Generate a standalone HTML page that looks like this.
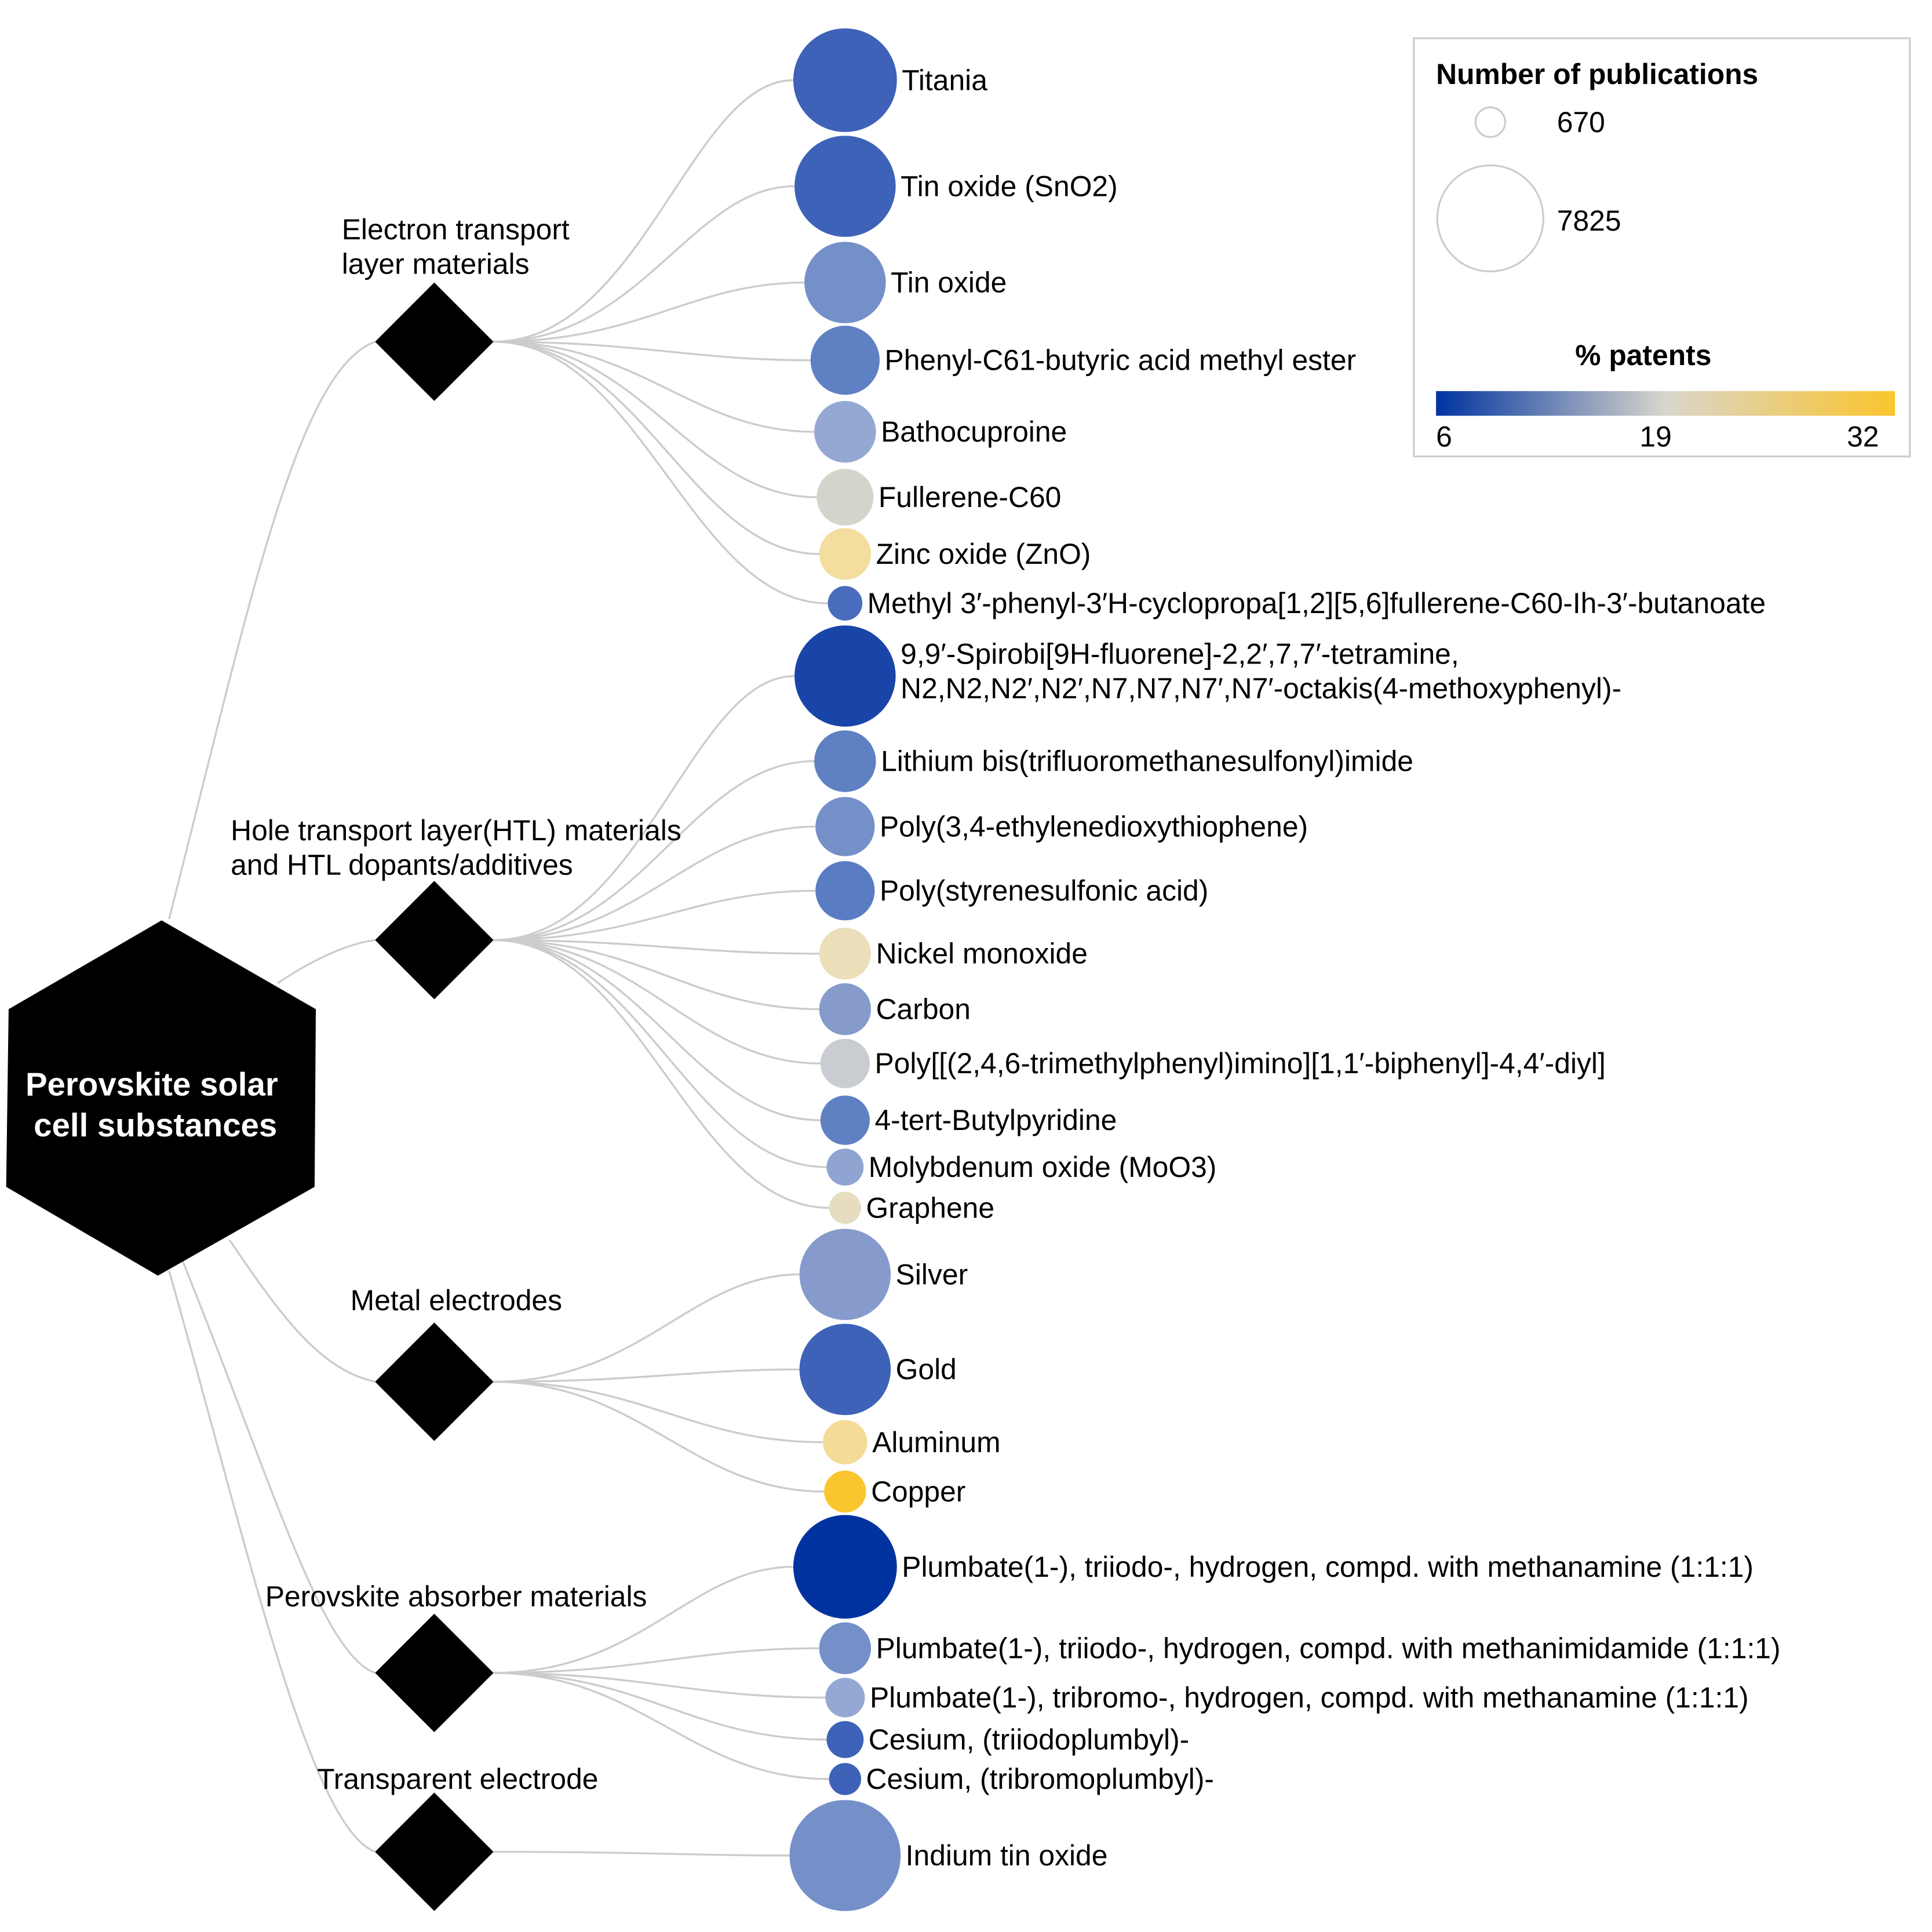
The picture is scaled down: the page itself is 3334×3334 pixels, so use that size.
<!DOCTYPE html>
<html><head><meta charset="utf-8"><style>html,body{margin:0;padding:0;background:#fff}svg{display:block}text{font-family:"Liberation Sans",Arial,sans-serif;fill:#000}</style></head>
<body>
<svg width="3334" height="3334" viewBox="0 0 1566 1566" xmlns="http://www.w3.org/2000/svg">
<defs><linearGradient id="g" x1="0" x2="1" y1="0" y2="0"><stop offset="0" stop-color="#0033a0"/><stop offset="0.5" stop-color="#d9d6cc"/><stop offset="1" stop-color="#fbc52d"/></linearGradient></defs>
<g fill="none" stroke="#cccccc" stroke-width="1.6">
<path d="M137,745 C200,500 240,300 304,277"/>
<path d="M225,797 C250,780 280,765 304,762"/>
<path d="M186,1005 C230,1070 260,1110 304,1120"/>
<path d="M148,1022 C220,1200 260,1340 304,1356"/>
<path d="M137,1030 C200,1250 250,1480 304,1501"/>
</g>
<g id="edges" fill="none" stroke="#cccccc" stroke-width="1.6"></g>
<polygon points="131,746 256,818 255,962 128,1034 5,962 7,818" fill="#000"/>
<text x="123" y="888" text-anchor="middle" font-size="26.5" font-weight="bold" style="fill:#fff">Perovskite solar</text>
<text x="126" y="921" text-anchor="middle" font-size="26.5" font-weight="bold" style="fill:#fff">cell substances</text>
<g fill="#000">
<polygon points="352,229 400,277 352,325 304,277"/>
<polygon points="352,714 400,762 352,810 304,762"/>
<polygon points="352,1072 400,1120 352,1168 304,1120"/>
<polygon points="352,1308 400,1356 352,1404 304,1356"/>
<polygon points="352,1453 400,1501 352,1549 304,1501"/>
</g>
<g font-size="23.4">
<text x="277" y="194">Electron transport</text><text x="277" y="222">layer materials</text>
<text x="187" y="681">Hole transport layer(HTL) materials</text><text x="187" y="709">and HTL dopants/additives</text>
<text x="284" y="1062">Metal electrodes</text>
<text x="215" y="1302">Perovskite absorber materials</text>
<text x="257" y="1450">Transparent electrode</text>
</g>
<g id="leaves"></g>
<rect x="1146" y="31" width="402" height="339" fill="#fff" stroke="#cccccc" stroke-width="1.5"/>
<text x="1164" y="68" font-size="23.4" font-weight="bold">Number of publications</text>
<circle cx="1208" cy="99" r="12" fill="none" stroke="#ccc" stroke-width="1.5"/>
<text x="1262" y="107" font-size="23.4">670</text>
<circle cx="1208" cy="177" r="43" fill="none" stroke="#ccc" stroke-width="1.5"/>
<text x="1262" y="187" font-size="23.4">7825</text>
<text x="1332" y="296" font-size="23.4" font-weight="bold" text-anchor="middle">% patents</text>
<rect x="1164" y="317" width="372" height="20" fill="url(#g)"/>
<text x="1164" y="362" font-size="23.4">6</text>
<text x="1342" y="362" font-size="23.4" text-anchor="middle">19</text>
<text x="1510" y="362" font-size="23.4" text-anchor="middle">32</text>
<script>
var L=[
[277,65,42,"#3d62b8","Titania"],[277,151,41,"#3d62b8","Tin oxide (SnO2)"],[277,229,33,"#7590c9","Tin oxide"],[277,292,28,"#5f80c3","Phenyl-C61-butyric acid methyl ester"],[277,350,25,"#94a8d3","Bathocuproine"],[277,403,23,"#d4d4cc","Fullerene-C60"],[277,449,21,"#f3dea0","Zinc oxide (ZnO)"],[277,489,14,"#4a6cbd","Methyl 3′-phenyl-3′H-cyclopropa[1,2][5,6]fullerene-C60-Ih-3′-butanoate"],
[762,548,41,"#1a45a8","9,9′-Spirobi[9H-fluorene]-2,2′,7,7′-tetramine,|N2,N2,N2′,N2′,N7,N7,N7′,N7′-octakis(4-methoxyphenyl)-"],[762,617,25,"#5f80c3","Lithium bis(trifluoromethanesulfonyl)imide"],[762,670,24,"#7590c9","Poly(3,4-ethylenedioxythiophene)"],[762,722,24,"#5a7cc2","Poly(styrenesulfonic acid)"],[762,773,21,"#ebdfba","Nickel monoxide"],[762,818,21,"#869bcb","Carbon"],[762,862,20,"#c9ccd0","Poly[[(2,4,6-trimethylphenyl)imino][1,1′-biphenyl]-4,4′-diyl]"],[762,908,20,"#5f80c3","4-tert-Butylpyridine"],[762,946,15,"#90a4d2","Molybdenum oxide (MoO3)"],[762,979,13,"#e6ddc0","Graphene"],
[1120,1033,37,"#869bcb","Silver"],[1120,1110,37,"#3d62b8","Gold"],[1120,1169,18,"#f4dc98","Aluminum"],[1120,1209,17,"#fbc52d","Copper"],
[1356,1270,42,"#0033a0","Plumbate(1-), triiodo-, hydrogen, compd. with methanamine (1:1:1)"],[1356,1336,21,"#7590c9","Plumbate(1-), triiodo-, hydrogen, compd. with methanimidamide (1:1:1)"],[1356,1376,16,"#94a8d3","Plumbate(1-), tribromo-, hydrogen, compd. with methanamine (1:1:1)"],[1356,1410,15,"#3d62b8","Cesium, (triiodoplumbyl)-"],[1356,1442,13,"#3d62b8","Cesium, (tribromoplumbyl)-"],
[1501,1504,45,"#7590c9","Indium tin oxide"]];
var NS="http://www.w3.org/2000/svg",E=document.getElementById("edges"),G=document.getElementById("leaves");
L.forEach(function(a){var y0=a[0],y=a[1],r=a[2],cx=685;
var p=document.createElementNS(NS,"path");p.setAttribute("d","M400,"+y0+" C520,"+y0+" 560,"+y+" "+(cx-r)+","+y);E.appendChild(p);
var c=document.createElementNS(NS,"circle");c.setAttribute("cx",cx);c.setAttribute("cy",y);c.setAttribute("r",r);c.setAttribute("fill",a[3]);G.appendChild(c);
var parts=a[4].split("|");parts.forEach(function(s,i){var t=document.createElementNS(NS,"text");t.setAttribute("x",cx+r+4);
var yy=parts.length>1?y-2+(i*28)-8:y+8;t.setAttribute("y",yy);t.setAttribute("font-size","23.4");t.textContent=s;G.appendChild(t);});});
</script>
</svg>
</body></html>
